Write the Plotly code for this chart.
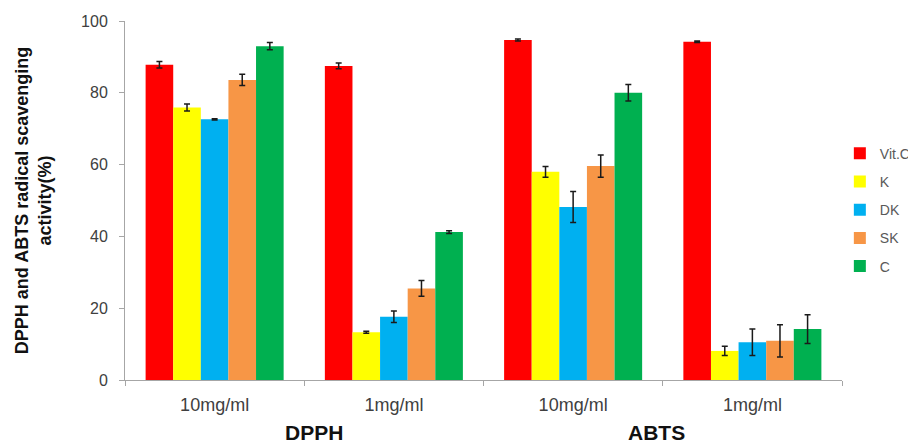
import plotly.graph_objects as go

categories = ["10mg/ml", "1mg/ml", "10mg/ml ", "1mg/ml "]
category_labels = ["10mg/ml", "1mg/ml", "10mg/ml", "1mg/ml"]
series_names = ["Vit.C", "K", "DK", "SK", "C"]
series_colors = ["#FF0000", "#FFFF00", "#00B0F0", "#F79646", "#00B050"]

vitc = [87.8, 87.5, 94.7, 94.2]
k = [75.9, 13.3, 58.0, 8.1]
dk = [72.6, 17.6, 48.2, 10.5]
sk = [83.6, 25.5, 59.6, 10.9]
c = [93.0, 41.2, 80.0, 14.2]

vitc_err = [0.9, 0.8, 0.3, 0.2]
k_err = [1.0, 0.3, 1.5, 1.3]
dk_err = [0.2, 1.6, 4.3, 3.7]
sk_err = [1.6, 2.2, 3.1, 4.5]
c_err = [1.0, 0.4, 2.3, 4.0]

assay_labels = ["DPPH", "ABTS"]
assay_positions = [0.555, 2.465]

values = [vitc, k, dk, sk, c]
errors = [vitc_err, k_err, dk_err, sk_err, c_err]

fig = go.Figure()
for name, color, vals, errs in zip(series_names, series_colors, values, errors):
    fig.add_trace(go.Bar(
        name=name, x=categories, y=vals, marker_color=color,
        marker_line_width=0, legendgroup=name,
        error_y=dict(type="data", array=errs, visible=True,
                     color="#1a1a1a", thickness=1.5, width=3),
    ))

for lab, pos in zip(assay_labels, assay_positions):
    fig.add_annotation(x=pos, y=0, xref="x", yref="paper",
                       text="<b>" + lab + "</b>",
                       showarrow=False, yanchor="middle", yshift=-52,
                       font=dict(family="Arial", size=21, color="#111111"))

# page body has an 8px margin: shrink figure so the plot area lands where the reference has it
fig.update_layout(
    width=908, height=436,
    margin=dict(l=117, r=74, t=13, b=64, autoexpand=False),
    plot_bgcolor="white", paper_bgcolor="white",
    barmode="group", bargap=0.23, bargroupgap=0,
    font=dict(family="Arial", color="#404040"),
    legend=dict(x=0.997, y=0.675, xanchor="left", yanchor="top",
                font=dict(size=14, color="#595959"),
                tracegroupgap=7, itemwidth=30),
    showlegend=True,
)
fig.update_xaxes(
    type="category", tickvals=categories, ticktext=category_labels,
    showline=True, linecolor="#A6A6A6", linewidth=1,
    ticks="outside", tickson="boundaries", ticklen=5, tickcolor="#A6A6A6",
    tickfont=dict(size=18, color="#404040"), showgrid=False,
    ticklabelstandoff=8,
)
fig.update_yaxes(
    range=[0, 100], tickvals=[0, 20, 40, 60, 80, 100],
    showline=True, linecolor="#A6A6A6", linewidth=1,
    ticks="outside", ticklen=5, tickcolor="#A6A6A6",
    tickfont=dict(size=16, color="#404040"), showgrid=False, zeroline=False,
    ticklabelstandoff=8,
    title=dict(text="<b>DPPH and ABTS radical scavenging<br>activity(%)</b>",
               font=dict(size=18, color="#111111"), standoff=24),
)

fig.write_html("out.html")
